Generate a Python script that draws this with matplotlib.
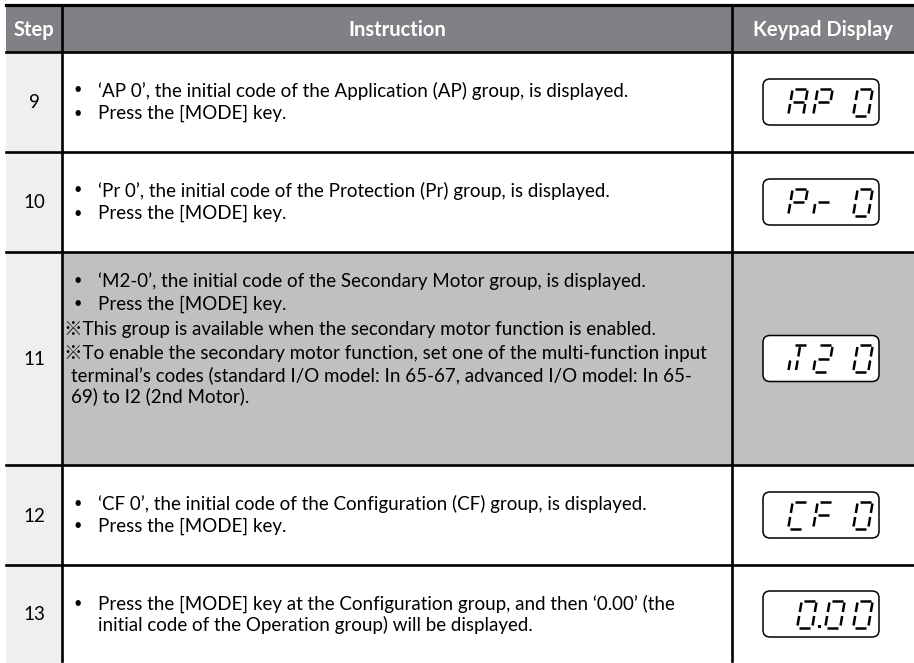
import matplotlib.pyplot as plt
from matplotlib.patches import Rectangle, FancyBboxPatch

plt.rcParams['font.family'] = ['Lato', 'Noto Sans CJK JP', 'DejaVu Sans']

# table content
headers = ['Step', 'Instruction', 'Keypad Display']
steps = ['9', '10', '11', '12', '13']
displays = ['AP 0', 'Pr 0', 'M2 0', 'CF 0', '0.00']
# line kinds: b = bullet, w = wrapped bullet line, n = note, c = note continuation
row9 = [('b', '‘AP 0’, the initial code of the Application (AP) group, is displayed.'),
        ('b', 'Press the [MODE] key.')]
row10 = [('b', '‘Pr 0’, the initial code of the Protection (Pr) group, is displayed.'),
         ('b', 'Press the [MODE] key.')]
row11 = [('b', '‘M2-0’, the initial code of the Secondary Motor group, is displayed.'),
         ('b', 'Press the [MODE] key.'),
         ('n', '※This group is available when the secondary motor function is enabled.'),
         ('n', '※To enable the secondary motor function, set one of the multi-function input'),
         ('c', 'terminal’s codes (standard I/O model: In 65-67, advanced I/O model: In 65-'),
         ('c', '69) to I2 (2nd Motor).')]
row12 = [('b', '‘CF 0’, the initial code of the Configuration (CF) group, is displayed.'),
         ('b', 'Press the [MODE] key.')]
row13 = [('b', 'Press the [MODE] key at the Configuration group, and then ‘0.00’ (the'),
         ('w', 'initial code of the Operation group) will be displayed.')]
instructions = [row9, row10, row11, row12, row13]

# layout (pixels)
W, H = 914, 663
x_left, x_c1, x_c2 = 6, 62, 732
y_top, head_h = 6, 46
row_h = [100, 100, 213, 100, 98]
text_shift = [0, 0, -20, 0, 0]
slot_x = [798, 823, 843, 863]
header_col = '#808184'
step_col = '#efefef'
shade_col = '#c0c0c0'
fs = 13.5

fig = plt.figure(figsize=(W / 100, H / 100), dpi=100)
ax = fig.add_axes([0, 0, 1, 1])
ax.set_xlim(0, W)
ax.set_ylim(H, 0)
ax.axis('off')

# header
ax.add_patch(Rectangle((x_left, y_top), W - x_left, head_h, color=header_col, lw=0))
hy = y_top + head_h / 2
for label, cx in zip(headers, [(x_left + x_c1) / 2, (x_c1 + x_c2) / 2, (x_c2 + W) / 2]):
    ax.text(cx, hy + 1, label, color='white', fontweight='bold', fontsize=14.5,
            ha='center', va='center')

SEGS = {
    'a': ((0, 0), (1, 0)), 'b': ((1, 0), (1, .5)), 'c': ((1, .5), (1, 1)),
    'd': ((0, 1), (1, 1)), 'e': ((0, .5), (0, 1)), 'f': ((0, 0), (0, .5)),
    'g': ((0, .5), (1, .5)), 'u': ((.5, 0), (.5, .5)), 'm': ((.5, .5), (.5, 1)),
}
GLYPHS = {'0': 'abcdef', '2': 'abged', 'A': 'abcefg', 'P': 'abefg', 'r': 'eg',
          'C': 'adef', 'F': 'aefg', 'M': 'auem', ' ': ''}


def seven_seg(cx, top, ch, w=15, h=27, slant=0.17, gap=2.0):
    def pt(u, v):
        return (cx - w / 2 + u * w + (0.5 - v) * h * slant, top + v * h)
    for s in GLYPHS[ch]:
        (u0, v0), (u1, v1) = SEGS[s]
        if v0 == v1:
            g = gap / w
            u0, u1 = u0 + g, u1 - g
        else:
            g = gap / h
            v0, v1 = v0 + g, v1 - g
        p0, p1 = pt(u0, v0), pt(u1, v1)
        ax.plot([p0[0], p1[0]], [p0[1], p1[1]], color='black', lw=1.8,
                solid_capstyle='butt')


def keypad(cy, text):
    bx0, bx1, bh = 763, 879, 46
    ax.add_patch(FancyBboxPatch((bx0, cy - bh / 2), bx1 - bx0, bh,
                                boxstyle='round,pad=0,rounding_size=7',
                                fc='white', ec='black', lw=1.1))
    top = cy - 13.5
    if '.' in text:
        chars = [c for c in text if c != '.']
        pitch, right = 28, bx1 - 16
        for k, c in enumerate(reversed(chars)):
            seven_seg(right - k * pitch, top, c)
        n_after = len(text) - text.index('.') - 1
        dx = right - (n_after - 0.5) * pitch - 2
        ax.add_patch(Rectangle((dx - 1.5, top + 24), 3, 3, color='black', lw=0))
    else:
        for c, sx in zip(text, slot_x):
            seven_seg(sx, top, c)


y = y_top + head_h
bounds = [y]
for i, (step, lines, disp) in enumerate(zip(steps, instructions, displays)):
    h = row_h[i]
    ax.add_patch(Rectangle((x_left, y), x_c1 - x_left, h, color=step_col, lw=0))
    if i == 2:
        ax.add_patch(Rectangle((x_c1, y), W - x_c1, h, color=shade_col, lw=0))
    cy = y + h / 2
    ax.text((x_left + x_c1) / 2, cy + 1, step, fontsize=fs, ha='center', va='center')
    # line positions
    offs = [0]
    for k in range(1, len(lines)):
        kind = lines[k][0]
        if kind in 'wc':
            offs.append(offs[-1] + 21)
        elif kind == 'n':
            offs.append(offs[-1] + 25)
        else:
            offs.append(offs[-1] + 23)
    start = cy - offs[-1] / 2 + text_shift[i]
    for (kind, txt), o in zip(lines, offs):
        ly = start + o
        if kind == 'b':
            ax.text(78, ly, '•', fontsize=fs - 3, ha='center', va='center')
            ax.text(98, ly, txt, fontsize=fs, va='center')
        elif kind == 'w':
            ax.text(98, ly, txt, fontsize=fs, va='center')
        elif kind == 'n':
            ax.text(64, ly, txt, fontsize=fs, va='center')
        else:
            ax.text(71, ly, txt, fontsize=fs, va='center')
    keypad(cy, disp)
    y += h
    bounds.append(y)

# rules
lw = 1.9
ax.plot([x_left, W], [y_top - 1, y_top - 1], color='black', lw=2.3)
for b in bounds[:-1]:
    ax.plot([x_left, W], [b, b], color='black', lw=lw)
for x in (x_c1, x_c2):
    ax.plot([x, x], [y_top, H - 2], color='black', lw=lw)

fig.savefig('out.png', dpi=100)
